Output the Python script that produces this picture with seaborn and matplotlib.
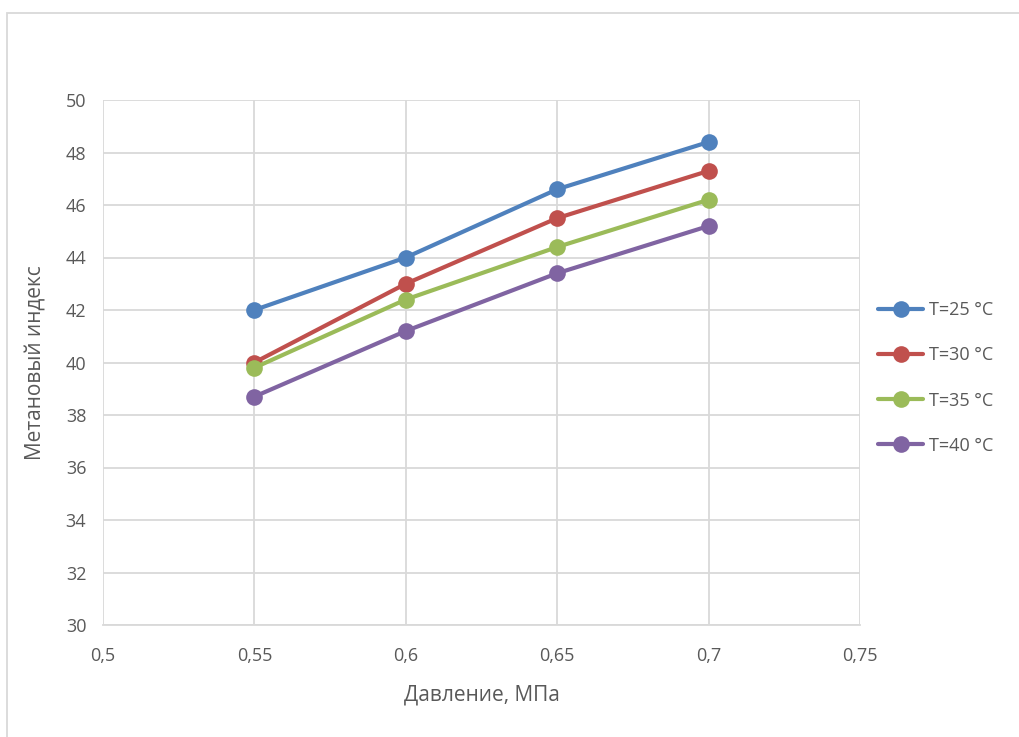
import matplotlib
matplotlib.use("Agg")
import matplotlib.pyplot as plt
import seaborn as sns
import pandas as pd
from matplotlib.ticker import FuncFormatter, MultipleLocator
from matplotlib.patches import Rectangle

pressure = [0.55, 0.6, 0.65, 0.7]
t25 = [42.0, 44.0, 46.6, 48.4]
t30 = [40.0, 43.0, 45.5, 47.3]
t35 = [39.8, 42.4, 44.4, 46.2]
t40 = [38.7, 41.2, 43.4, 45.2]
series_labels = ["T=25 °C", "T=30 °C", "T=35 °C", "T=40 °C"]
colors = ["#4f81bd", "#c0504d", "#9bbb59", "#8064a2"]

rows = []
for lab, vals in zip(series_labels, [t25, t30, t35, t40]):
    for p, v in zip(pressure, vals):
        rows.append({"p": p, "v": v, "s": lab})
df = pd.DataFrame(rows)

sns.set_theme(style="white")
plt.rcParams["font.family"] = ["Open Sans", "DejaVu Sans"]

fig = plt.figure(figsize=(10.19, 7.37), dpi=100)
ax = fig.add_axes([103/1019, 1-625/737, (860-103)/1019, (625-100)/737])

sns.lineplot(data=df, x="p", y="v", hue="s", palette=colors, marker="o",
             markersize=12, markeredgewidth=0, linewidth=3, ax=ax, legend=True)

ax.set_xlim(0.5, 0.75)
ax.set_ylim(30, 50)
ax.xaxis.set_major_locator(MultipleLocator(0.05))
ax.yaxis.set_major_locator(MultipleLocator(2))
ax.xaxis.set_major_formatter(FuncFormatter(lambda v, p: f"{v:.2f}".rstrip("0").replace(".", ",")))
ax.yaxis.set_major_formatter(FuncFormatter(lambda v, p: f"{v:g}"))
ax.grid(True, color="#d9d9d9", linewidth=1.3)
ax.set_axisbelow(True)
for s in ["top", "right", "left"]:
    ax.spines[s].set_visible(False)
ax.spines["bottom"].set_color("#d9d9d9")
ax.spines["bottom"].set_linewidth(1.3)
ax.tick_params(axis="both", length=0, labelsize=13, colors="#595959")
ax.tick_params(axis="x", pad=16)
ax.tick_params(axis="y", pad=12)
ax.set_xlabel("Давление, МПа", fontsize=15, color="#595959", labelpad=14)
ax.set_ylabel("Метановый индекс", fontsize=15, color="#595959", labelpad=14)

handles, labels = ax.get_legend_handles_labels()
leg = fig.legend(handles, labels, loc="center left", bbox_to_anchor=(862/1019, 1-378/737),
                 frameon=False, fontsize=13, labelcolor="#595959", labelspacing=1.5,
                 handlelength=2.5, handletextpad=0.3)
if ax.get_legend():
    ax.get_legend().remove()

fig.patches.append(Rectangle((7/1019, -0.1), 1.2, 1 - 13/737 + 0.1, transform=fig.transFigure,
                             fill=False, edgecolor="#d9d9d9", linewidth=1.3, zorder=-1))

fig.savefig("out.png", dpi=100)
